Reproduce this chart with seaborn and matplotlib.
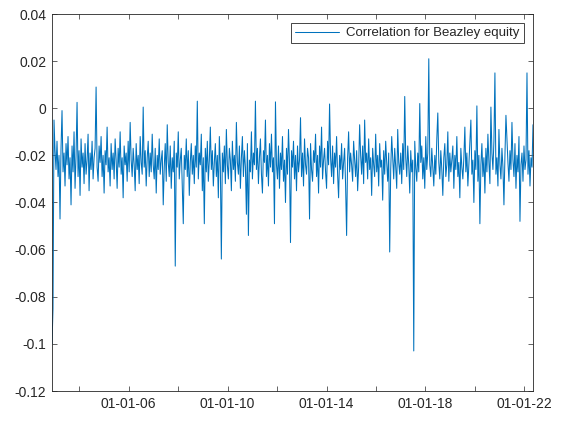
import matplotlib
matplotlib.use("Agg")
import matplotlib.pyplot as plt
import seaborn as sns
import pandas as pd

# ---- data (roughly one value per ~15 days) ----
start_date = "2002-11-26"
end_date = "2022-05-08"
series_label = "Correlation for Beazley equity"
correlation = [
    -0.100, -0.085, -0.005, -0.018, -0.026, -0.014, -0.029, -0.020, -0.047, -0.017, -0.001, -0.027, -0.019, -0.033, -0.015, -0.024, -0.012, -0.030, -0.021, -0.041,
    -0.016, -0.027, -0.010, -0.034, -0.020, 0.0025, -0.029, -0.018, -0.037, -0.013, -0.025, -0.019, -0.032, -0.015, -0.028, -0.022, -0.011, -0.035, -0.019, -0.026,
    -0.014, -0.030, -0.021, -0.017, 0.009, -0.025, -0.031, -0.016, -0.023, -0.012, -0.029, -0.020, -0.036, -0.018, -0.024, -0.008, -0.027, -0.021, -0.033, -0.015,
    -0.026, -0.019, -0.030, -0.013, -0.022, -0.034, -0.017, -0.025, -0.010, -0.028, -0.021, -0.038, -0.016, -0.024, -0.019, -0.031, -0.014, -0.027, -0.006, -0.022,
    -0.029, -0.017, -0.024, -0.035, -0.015, -0.026, -0.020, -0.032, -0.012, -0.023, -0.028, 0.0005, -0.025, -0.018, -0.033, -0.021, -0.014, -0.029, -0.019, -0.027,
    -0.011, -0.024, -0.030, -0.017, -0.036, -0.020, -0.026, -0.013, -0.028, -0.022, -0.018, -0.041, -0.025, -0.015, -0.031, -0.007, -0.023, -0.029, -0.016, -0.034,
    -0.021, -0.027, -0.014, -0.067, -0.019, -0.025, -0.010, -0.030, -0.022, -0.017, -0.033, -0.049, -0.020, -0.026, -0.013, -0.029, -0.018, -0.037, -0.023, -0.015,
    -0.028, -0.020, -0.032, -0.016, -0.025, 0.003, -0.030, -0.019, -0.024, -0.011, -0.035, -0.021, -0.049, -0.017, -0.027, -0.014, -0.031, -0.022, -0.008, -0.026,
    -0.018, -0.033, -0.023, -0.015, -0.029, -0.020, -0.038, -0.012, -0.025, -0.064, -0.019, -0.027, -0.016, -0.032, -0.009, -0.024, -0.030, -0.017, -0.022, -0.035,
    -0.014, -0.026, -0.020, -0.031, -0.006, -0.023, -0.028, -0.016, -0.034, -0.021, -0.012, -0.029, -0.018, -0.025, -0.045, -0.015, -0.054, -0.022, -0.027, -0.010,
    -0.030, -0.019, -0.024, 0.003, -0.026, -0.017, -0.032, -0.021, -0.013, -0.028, -0.036, -0.018, -0.023, -0.005, -0.029, -0.020, -0.033, -0.015, -0.025, -0.011,
    -0.027, -0.021, -0.049, 0.0027, -0.024, -0.030, -0.016, -0.034, -0.019, -0.026, -0.012, -0.031, -0.022, -0.040, -0.017, -0.028, -0.009, -0.023, -0.057, -0.018,
    -0.025, -0.014, -0.030, -0.020, -0.035, -0.016, -0.027, -0.022, -0.004, -0.029, -0.019, -0.033, -0.013, -0.024, -0.028, -0.017, -0.021, -0.047, -0.015, -0.026,
    -0.031, -0.018, -0.023, -0.011, -0.029, -0.020, -0.036, -0.016, -0.025, -0.008, -0.030, -0.022, -0.017, -0.027, -0.034, -0.014, -0.024, 0.0018, -0.021, -0.029,
    -0.016, -0.032, -0.019, -0.025, -0.012, -0.028, -0.038, -0.020, -0.026, -0.015, -0.030, -0.023, -0.017, -0.033, -0.054, -0.021, -0.010, -0.027, -0.019, -0.024,
    -0.031, -0.014, -0.022, -0.029, -0.018, -0.035, -0.025, -0.007, -0.020, -0.028, -0.016, -0.032, -0.005, -0.023, -0.019, -0.030, -0.013, -0.026, -0.021, -0.037,
    -0.017, -0.024, -0.029, -0.011, -0.027, -0.020, -0.033, -0.015, -0.025, -0.022, -0.039, -0.018, -0.028, -0.014, -0.023, -0.031, -0.019, -0.061, -0.026, -0.012,
    -0.021, -0.030, -0.017, -0.025, -0.034, -0.009, -0.023, -0.028, -0.019, -0.032, -0.015, -0.026, 0.005, -0.021, -0.029, -0.016, -0.024, -0.036, -0.018, -0.027,
    -0.022, -0.103, -0.014, -0.025, -0.031, -0.019, -0.027, 0.002, -0.023, -0.016, -0.030, -0.021, -0.034, -0.012, -0.026, -0.019, 0.021, -0.024, -0.029, -0.017,
    -0.025, -0.033, -0.020, -0.028, -0.013, -0.002, -0.023, -0.030, -0.018, -0.026, -0.037, -0.021, -0.015, -0.029, -0.024, -0.010, -0.031, -0.019, -0.027, -0.022,
    -0.016, -0.034, -0.020, -0.026, -0.012, -0.029, -0.023, -0.038, -0.017, -0.025, -0.030, -0.021, -0.008, -0.027, -0.019, -0.033, -0.024, -0.014, -0.005, -0.028,
    -0.022, -0.040, -0.018, -0.026, 0.001, -0.031, -0.020, -0.049, -0.024, -0.015, -0.029, -0.021, -0.036, -0.017, -0.027, -0.011, -0.023, -0.032, 0.0005, -0.019,
    -0.026, -0.014, 0.015, -0.028, -0.021, -0.033, -0.009, -0.024, -0.030, -0.017, -0.025, -0.041, -0.020, -0.003, -0.013, -0.023, -0.031, -0.018, -0.026, -0.006,
    -0.022, -0.029, -0.015, -0.034, -0.020, -0.027, -0.012, -0.048, -0.024, -0.019, -0.031, -0.016, -0.026, -0.022, 0.015, -0.028, -0.018, -0.033, -0.021, -0.025,
    -0.007,
]
y_ticks = [-0.12, -0.1, -0.08, -0.06, -0.04, -0.02, 0, 0.02, 0.04]
y_tick_labels = ["-0.12", "-0.1", "-0.08", "-0.06", "-0.04", "-0.02", "0", "0.02", "0.04"]
x_tick_years = [2004, 2006, 2008, 2010, 2012, 2014, 2016, 2018, 2020, 2022]
x_labelled_years = [2006, 2010, 2014, 2018, 2022]

dates = pd.date_range(start_date, end_date, periods=len(correlation))
df = pd.DataFrame({"date": dates, "corr": correlation})

# ---- style ----
sns.set_style("ticks")
plt.rcParams["font.family"] = ["Liberation Sans", "DejaVu Sans"]
axis_color = "#262626"
line_color = "#0072BD"

fig = plt.figure(figsize=(5.65, 4.23), dpi=100)
ax = fig.add_axes([52 / 565, 1 - 391 / 423, (533 - 52) / 565, (391 - 14) / 423])

sns.lineplot(data=df, x="date", y="corr", ax=ax, color=line_color,
             linewidth=0.75, label=series_label)

ax.set_xlim(pd.Timestamp(start_date), pd.Timestamp(end_date))
ax.set_ylim(-0.12, 0.04)
ax.set_xlabel("")
ax.set_ylabel("")

tick_dates = [pd.Timestamp(f"{y}-01-01") for y in x_tick_years]
ax.set_xticks(tick_dates)
ax.set_xticklabels([d.strftime("%d-%m-%y") if d.year in x_labelled_years else ""
                    for d in tick_dates])
ax.set_yticks(y_ticks)
ax.set_yticklabels(y_tick_labels)

for side in ["left", "right", "top", "bottom"]:
    ax.spines[side].set_visible(True)
    ax.spines[side].set_color(axis_color)
    ax.spines[side].set_linewidth(0.6)

ax.tick_params(axis="both", direction="in", length=3.5, width=0.5,
               colors=axis_color, labelsize=10, top=True, right=True,
               labelcolor=axis_color, pad=4)
ax.grid(False)

leg = ax.legend(loc="upper right", fontsize=9.5, frameon=True, fancybox=False,
                edgecolor=axis_color, framealpha=1, borderaxespad=0.7,
                handlelength=3.3, borderpad=0.3, handletextpad=0.6)
leg.get_frame().set_linewidth(0.6)

fig.savefig("out.png", dpi=100, facecolor="white")
